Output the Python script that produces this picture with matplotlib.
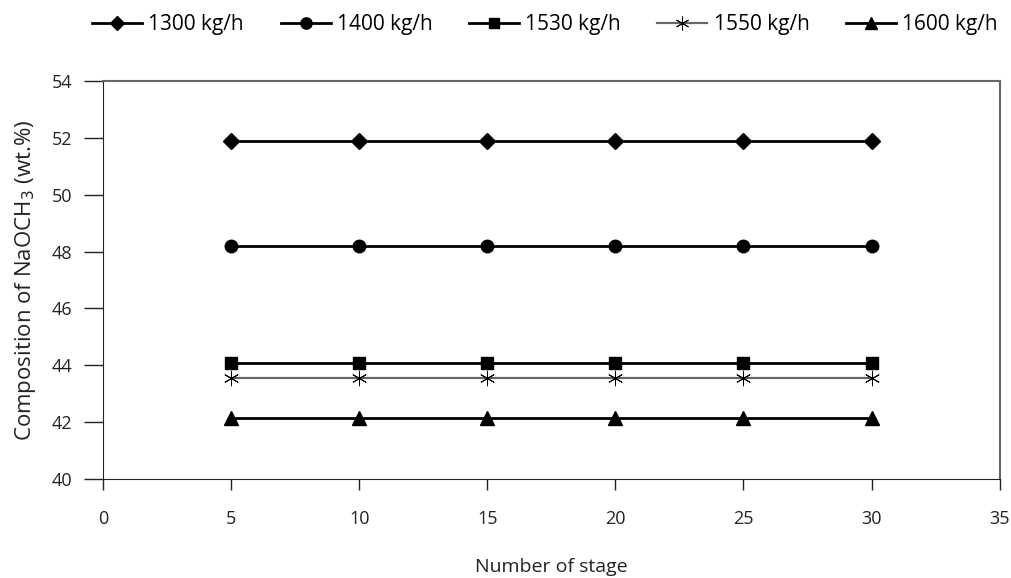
import matplotlib
matplotlib.use('Agg')
import matplotlib.pyplot as plt

# Composition of NaOCH3 against the number of stages for several feed rates
stages = [5, 10, 15, 20, 25, 30]
rate_labels = ['1300 kg/h', '1400 kg/h', '1530 kg/h', '1550 kg/h', '1600 kg/h']
comp_1300 = [51.9, 51.9, 51.9, 51.9, 51.9, 51.9]
comp_1400 = [48.2, 48.2, 48.2, 48.2, 48.2, 48.2]
comp_1530 = [44.1, 44.1, 44.1, 44.1, 44.1, 44.1]
comp_1550 = [43.55, 43.55, 43.55, 43.55, 43.55, 43.55]
comp_1600 = [42.15, 42.15, 42.15, 42.15, 42.15, 42.15]

plt.rcParams['font.family'] = ['Open Sans', 'DejaVu Sans']

fig = plt.figure(figsize=(10.12, 5.78), dpi=100)
ax = fig.add_axes([0.1018, 0.171, 0.886, 0.689])

series = [comp_1300, comp_1400, comp_1530, comp_1550, comp_1600]
markers = ['D', 'o', 's', (6, 2, 0), '^']
sizes = [8, 9, 8, 11, 10]
colors = ['black', 'black', 'black', '#666666', 'black']
widths = [2.0, 2.0, 2.0, 1.6, 2.0]
edge_widths = [1.0, 1.0, 1.0, 0.7, 1.0]
for values, label, m, ms, c, lw, mew in zip(series, rate_labels, markers, sizes, colors, widths, edge_widths):
    ax.plot(stages, values, color=c, linewidth=lw, marker=m, markersize=ms,
            markerfacecolor='black', markeredgecolor='black',
            markeredgewidth=mew, label=label)

ax.set_xlim(0, 35)
ax.set_ylim(40, 54)
ax.set_xticks(range(0, 36, 5))
ax.set_yticks(range(40, 55, 2))
ax.tick_params(axis='x', direction='out', length=8, width=1, pad=14, labelsize=13, colors='#222222')
ax.tick_params(axis='y', direction='out', length=14, width=1, pad=8, labelsize=13, colors='#222222')
for name in ['left', 'bottom']:
    ax.spines[name].set_color('#222222')
for name in ['top', 'right']:
    ax.spines[name].set_color('#666666')
    ax.spines[name].set_linewidth(1.5)

ax.set_xlabel('Number of stage', fontsize=14, labelpad=22, color='#222222')
ax.set_ylabel('Composition of NaOCH$_3$ (wt.%)', fontsize=16, labelpad=10, color='#222222')

fig.legend(loc='center', bbox_to_anchor=(0.5386, 0.957), ncol=5, frameon=False,
           fontsize=15, handlelength=2.4, handletextpad=0.3, columnspacing=1.75,
           markerscale=0.9)

plt.savefig('out.png', dpi=100)
